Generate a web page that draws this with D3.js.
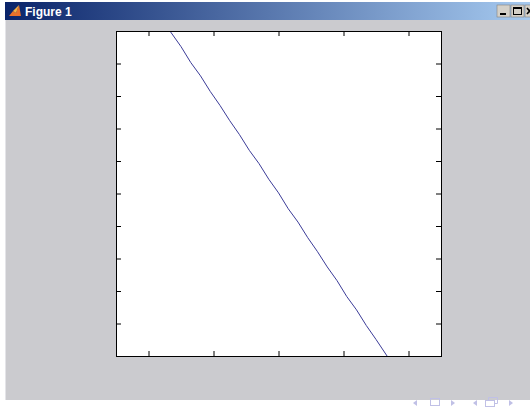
<!DOCTYPE html>
<html>
<head>
<meta charset="utf-8">
<script src="https://cdn.jsdelivr.net/npm/d3@7"></script>
<style>
  html, body { margin: 0; padding: 0; background: #ffffff; }
  svg { display: block; }
</style>
</head>
<body>
<svg id="fig" width="530" height="410"></svg>
<script>
// Sampled curve
const xValues = [-3.34, -3.0, -2.7, -2.4, -2.1, -1.8, -1.5, -1.2, -0.9, -0.6, -0.3, 0.0,
                 0.3, 0.6, 0.9, 1.2, 1.5, 1.8, 2.1, 2.4, 2.7, 3.0, 3.34];
const yValues = [5.0, 4.52, 4.03, 3.62, 3.14, 2.71, 2.24, 1.81, 1.33, 0.92, 0.44, 0.02,
                 -0.47, -0.88, -1.36, -1.79, -2.26, -2.68, -3.17, -3.58, -4.06, -4.49, -5.0];

// Axis ticks (drawn without labels)
const xTicks = [-4, -2, 0, 2, 4];
const yTicks = [-4, -3, -2, -1, 0, 1, 2, 3, 4];
const xDomain = [-5, 5];
const yDomain = [-5, 5];

const svg = d3.select("#fig");

// Window frame
svg.append("rect").attr("x", 0).attr("y", 0).attr("width", 530).attr("height", 410).attr("fill", "#ffffff");
svg.append("rect").attr("x", 5).attr("y", 2).attr("width", 525).attr("height", 398).attr("fill", "#cbcbcf");
svg.append("rect").attr("x", 5).attr("y", 2).attr("width", 1).attr("height", 398).attr("fill", "#e4e4e8");

// Title bar
const defs = svg.append("defs");
const grad = defs.append("linearGradient").attr("id", "titleGrad").attr("x1", "0%").attr("x2", "100%");
grad.append("stop").attr("offset", "0%").attr("stop-color", "#0a246a");
grad.append("stop").attr("offset", "100%").attr("stop-color", "#a6caf0");
svg.append("rect").attr("x", 5).attr("y", 2).attr("width", 525).attr("height", 18).attr("fill", "url(#titleGrad)");

// Title icon
svg.append("path").attr("d", "M9,16 L13,11 L16,13 L19,5 L21,16 Z").attr("fill", "#e8702a");
svg.append("path").attr("d", "M13,11 L16,13 L19,5 Z").attr("fill", "#f6b040");
svg.append("text").attr("x", 25).attr("y", 16)
  .attr("font-family", "Liberation Sans, Arial, sans-serif").attr("font-weight", "bold")
  .attr("font-size", 12).attr("fill", "#ffffff").text("Figure 1");

// Title bar buttons
const btns = svg.append("g");
[497, 511, 525].forEach((bx) => {
  btns.append("rect").attr("x", bx).attr("y", 5).attr("width", 13).attr("height", 12)
    .attr("fill", "#d4d0c8").attr("stroke", "#808080").attr("stroke-width", 0.6);
});
btns.append("rect").attr("x", 500).attr("y", 13).attr("width", 6).attr("height", 2).attr("fill", "#000");
btns.append("rect").attr("x", 513.5).attr("y", 7.5).attr("width", 8).attr("height", 7)
  .attr("fill", "none").attr("stroke", "#000").attr("stroke-width", 1);
btns.append("rect").attr("x", 513.5).attr("y", 7.5).attr("width", 8).attr("height", 1.5).attr("fill", "#000");
btns.append("path").attr("d", "M527,8 L532,14 M532,8 L527,14").attr("stroke", "#000").attr("stroke-width", 1.6);

// Plot area
const plotLeft = 116, plotTop = 31, plotSize = 325;
const x = d3.scaleLinear().domain(xDomain).range([plotLeft, plotLeft + plotSize]);
const y = d3.scaleLinear().domain(yDomain).range([plotTop + plotSize, plotTop]);

svg.append("rect").attr("x", plotLeft).attr("y", plotTop).attr("width", plotSize).attr("height", plotSize).attr("fill", "#ffffff");

defs.append("clipPath").attr("id", "plotClip")
  .append("rect").attr("x", plotLeft).attr("y", plotTop).attr("width", plotSize).attr("height", plotSize);

const line = d3.line().x((d, i) => x(xValues[i])).y((d, i) => y(yValues[i]));
svg.append("path").datum(xValues)
  .attr("clip-path", "url(#plotClip)")
  .attr("d", line).attr("fill", "none").attr("stroke", "#3c3c98").attr("stroke-width", 1);

// Axes with inward ticks, no labels, mirrored on all four sides
const tl = 5;
function styleAxis(g) {
  g.selectAll("text").remove();
  g.select(".domain").remove();
  g.selectAll(".tick line").attr("stroke", "#000").attr("stroke-width", 1);
}
svg.append("g").attr("transform", `translate(0,${plotTop + plotSize})`)
  .call(d3.axisBottom(x).tickValues(xTicks).tickSize(-tl).tickFormat("")).call(styleAxis);
svg.append("g").attr("transform", `translate(0,${plotTop})`)
  .call(d3.axisTop(x).tickValues(xTicks).tickSize(-tl).tickFormat("")).call(styleAxis);
svg.append("g").attr("transform", `translate(${plotLeft},0)`)
  .call(d3.axisLeft(y).tickValues(yTicks).tickSize(-tl).tickFormat("")).call(styleAxis);
svg.append("g").attr("transform", `translate(${plotLeft + plotSize},0)`)
  .call(d3.axisRight(y).tickValues(yTicks).tickSize(-tl).tickFormat("")).call(styleAxis);

svg.append("rect").attr("x", plotLeft + 0.5).attr("y", plotTop + 0.5).attr("width", plotSize).attr("height", plotSize)
  .attr("fill", "none").attr("stroke", "#000").attr("stroke-width", 1);

// Navigation symbols
const nav = svg.append("g").attr("fill", "#c0c0e6").attr("stroke", "#c0c0e6");
nav.append("path").attr("d", "M413,403 L417,400 L417,406 Z").attr("stroke", "none");
nav.append("rect").attr("x", 430.5).attr("y", 398.5).attr("width", 9).attr("height", 7).attr("fill", "none");
nav.append("path").attr("d", "M451,400 L455,403 L451,406 Z").attr("stroke", "none");
nav.append("path").attr("d", "M473,403 L477,400 L477,406 Z").attr("stroke", "none");
nav.append("rect").attr("x", 485.5).attr("y", 400.5).attr("width", 9).attr("height", 6).attr("fill", "none");
nav.append("path").attr("d", "M488.5,400.5 L488.5,397.5 L497.5,397.5 L497.5,403.5 L494.5,403.5").attr("fill", "none");
nav.append("path").attr("d", "M509,400 L513,403 L509,406 Z").attr("stroke", "none");
</script>
</body>
</html>
